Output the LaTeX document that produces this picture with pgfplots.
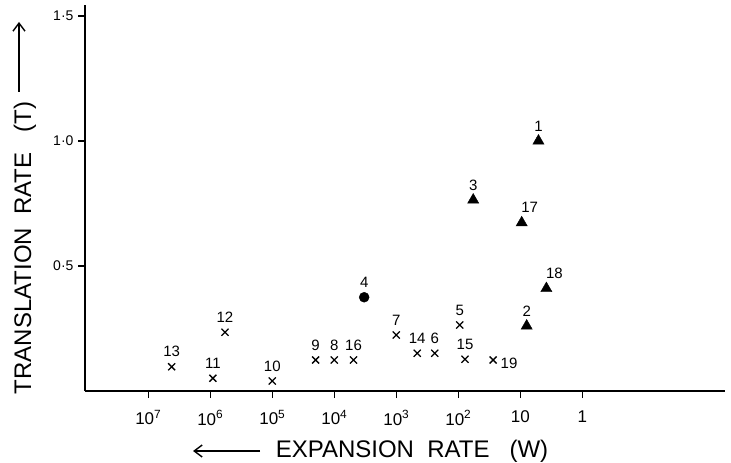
\documentclass[border=0pt]{standalone}
\usepackage{fontspec}
\setmainfont{Liberation Sans}
\usepackage{pgfplots}
\pgfplotsset{compat=1.18}
\usetikzlibrary{arrows.meta}

\begin{document}
\begin{tikzpicture}
\useasboundingbox (-85pt,-72pt) rectangle (646pt,391pt);
\begin{axis}[
  at={(0,0)}, anchor=south west,
  scale only axis, width=640pt, height=386pt,
  xmode=log, x dir=reverse,
  xmin=0.005, xmax=1.05e8,
  ymin=0, ymax=1.544,
  axis x line=bottom, axis y line=left,
  axis line style={-, line width=1.6pt},
  tick align=outside, major tick length=7pt,
  tick style={line width=1.3pt, black},
  xminorticks=false,
  xtick={1e7,1e6,1e5,1e4,1e3,1e2,10,1},
  xticklabels={10\textsuperscript{7},10\textsuperscript{6},10\textsuperscript{5},
    10\textsuperscript{4},10\textsuperscript{3},10\textsuperscript{2},10,1},
  ytick={0.5,1,1.5}, yticklabels={0·5,1·0,1·5},
  xticklabel style={font=\fontsize{17}{19}\selectfont, yshift=-9pt},
  yticklabel style={font=\fontsize{14}{16}\selectfont, xshift=-1pt},
  clip=false,
  nodes near coords, point meta=explicit symbolic,
  every node near coord/.style={font=\fontsize{15}{17}\selectfont,
    anchor=center, inner sep=0pt, yshift=15pt},
]
% crosses
\addplot[only marks, mark=x, mark size=5pt, line width=1.3pt] coordinates {
  (4.2e6,0.097)[13] (9.1e5,0.051)[11] (5.8e5,0.235)[12] (1.0e5,0.040)[10]
  (2.0e4,0.124)[9] (1.0e4,0.124)[8] (4.9e3,0.124)[16] (1.0e3,0.224)[7]
  (460,0.151)[14] (240,0.151)[6] (95,0.264)[5] (78,0.127)[15]
};
\addplot[only marks, mark=x, mark size=5pt, line width=1.3pt,
  every node near coord/.append style={xshift=16pt, yshift=-18pt}]
  coordinates {(27.5,0.124)[19]};
% triangles
\addplot[only marks, mark=triangle*, mark size=6.5pt, black] coordinates {
  (7.9,0.260)[2] (5.1,1.0)[1] (57.5,0.764)[3]
};
\addplot[only marks, mark=triangle*, mark size=6.5pt, black,
  every node near coord/.append style={xshift=8pt}] coordinates {
  (9.5,0.673)[17] (3.8,0.41)[18]
};
% circle
\addplot[only marks, mark=*, mark size=5pt, black] coordinates {
  (3.3e3,0.375)[4]
};
\end{axis}
\draw[line width=1.4pt, -{Straight Barb[length=8pt,width=12pt]}] (-66pt,299pt) -- (-66pt,369pt);
\node[rotate=90, font=\fontsize{24}{26}\selectfont] at (-60pt,143pt)
  {TRANSLATION\ \ RATE\ \ \ (T)};
\draw[line width=1.4pt, -{Straight Barb[length=8pt,width=12pt]}] (175pt,-60pt) -- (108pt,-60pt);
\node[font=\fontsize{24}{26}\selectfont] at (327pt,-60pt)
  {EXPANSION\ \ RATE\ \ \ (W)};
\end{tikzpicture}
\end{document}
